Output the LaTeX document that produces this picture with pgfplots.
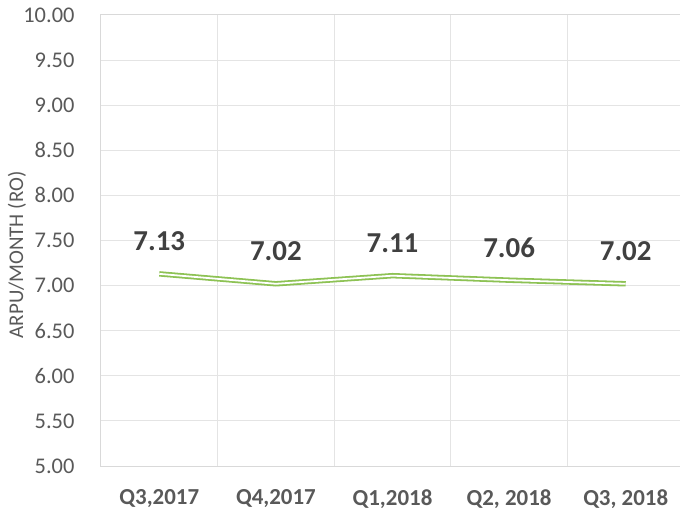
\documentclass[border=0pt]{standalone}
\usepackage{fontspec}
\setmainfont{Carlito}
\usepackage{pgfplots}
\pgfplotsset{compat=1.18}
\definecolor{lgreen}{RGB}{141,194,84}
\definecolor{tickgray}{RGB}{89,89,89}
\definecolor{lblgray}{RGB}{64,64,64}
\definecolor{gridgray}{RGB}{228,228,228}
\definecolor{axisgray}{RGB}{217,217,217}
\begin{document}
\begin{tikzpicture}
\useasboundingbox (-101bp,-47bp) rectangle (579bp,466bp);
\begin{axis}[
  at={(0,0)}, anchor=south west,
  scale only axis, width=583bp, height=451bp,
  xmin=-0.5, xmax=4.5, ymin=5, ymax=10,
  xtick={0,1,2,3,4},
  xticklabels={{Q3,2017},{Q4,2017},{Q1,2018},{Q2, 2018},{Q3, 2018}},
  minor xtick={0.5,1.5,2.5,3.5},
  xminorgrids=true, xmajorgrids=false,
  ytick={5,5.5,...,10},
  ymajorgrids=true,
  major tick length=0pt, minor tick length=0pt,
  grid style={draw=gridgray, line width=1bp},
  minor grid style={draw=gridgray, line width=1bp},
  axis line style={draw=axisgray, line width=1bp},
  /pgf/number format/assume math mode=true,
  /pgf/number format/fixed,
  /pgf/number format/fixed zerofill,
  /pgf/number format/precision=2,
  yticklabel style={font=\fontsize{22.5}{26}\selectfont, text=tickgray, xshift=-23bp},
  xticklabel style={font=\fontsize{23}{26}\selectfont\bfseries, text=tickgray, yshift=-20bp},
  ylabel={ARPU/MONTH (RO)},
  every axis y label/.style={at={(axis description cs:-0.144,0.468)}, rotate=90, anchor=center, font=\fontsize{21}{24}\selectfont, text=tickgray},
  nodes near coords,
  every node near coord/.append style={anchor=base, yshift=23bp, font=\fontsize{29}{32}\selectfont\bfseries, text=lblgray},
  clip=false,
]
\addplot[draw=lgreen, line width=1.8bp, double=white, double distance=1.8bp, mark=none]
  coordinates {(0,7.13) (1,7.02) (2,7.11) (3,7.06) (4,7.02)};
\end{axis}
\end{tikzpicture}
\end{document}
